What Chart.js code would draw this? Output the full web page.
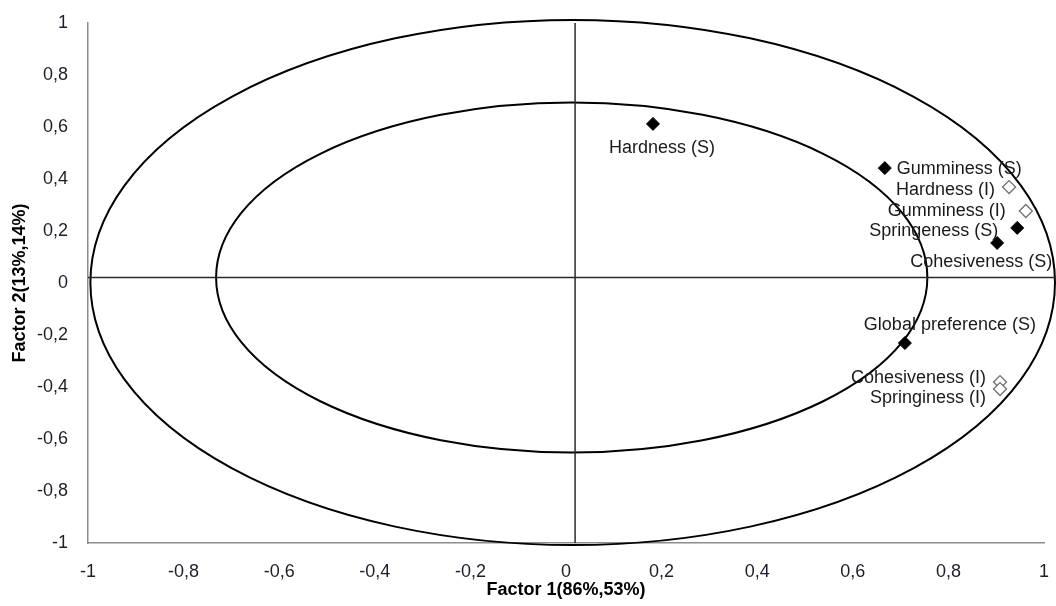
<!DOCTYPE html>
<html>
<head>
<meta charset="utf-8">
<script src="https://cdn.jsdelivr.net/npm/chart.js@4"></script>
<style>
  html, body { margin: 0; padding: 0; background: #fff; }
  #wrap { width: 1056px; height: 606px; }
</style>
</head>
<body>
<div id="wrap"><canvas id="pca"></canvas></div>
<script>
// sensory (S) variables - filled diamonds
const namesS = ['Hardness (S)', 'Gumminess (S)', 'Springeness (S)', 'Cohesiveness (S)', 'Global preference (S)'];
const factor1S = [0.182, 0.667, 0.944, 0.902, 0.709];
const factor2S = [0.612, 0.442, 0.212, 0.154, -0.231];

// instrumental (I) variables - open diamonds
const namesI = ['Hardness (I)', 'Gumminess (I)', 'Cohesiveness (I)', 'Springiness (I)'];
const factor1I = [0.927, 0.962, 0.908, 0.908];
const factor2I = [0.369, 0.277, -0.381, -0.408];

// tick values for both axes
const axisTicks = [-1, -0.8, -0.6, -0.4, -0.2, 0, 0.2, 0.4, 0.6, 0.8, 1];

// correlation ellipses: centre and radii in factor units
const ellipseCx = [0.014, 0.012];
const ellipseCy = [0.002, 0.021];
const ellipseRx = [1.009, 0.744];
const ellipseRy = [1.01, 0.673];

// the two cross lines
const crossH = [{x: -1, y: 0.021}, {x: 1.03, y: 0.021}];
const crossV = [{x: 0.019, y: -1}, {x: 0.019, y: 1}];

// label placement (pixels from the marker)
const labelPosS = [
  {dx: 9, dy: 24, align: 'center'},
  {dx: 12, dy: 1, align: 'left'},
  {dx: -19, dy: 3, align: 'right'},
  {dx: -16, dy: 19, align: 'center'},
  {dx: 45, dy: -18, align: 'center'}
];
const labelPosI = [
  {dx: -14, dy: 3, align: 'right'},
  {dx: -20, dy: 0, align: 'right'},
  {dx: -14, dy: -4, align: 'right'},
  {dx: -14, dy: 9, align: 'right'}
];

const FONT = '"Liberation Sans", Arial, sans-serif';

const toPoints = (xs, ys) => xs.map((x, i) => ({x: x, y: ys[i]}));
const fmt = v => Number(v.toFixed(1)).toString().replace('.', ',');

const ellipsePlugin = {
  id: 'ellipses',
  beforeDatasetsDraw(chart) {
    const {ctx, scales: {x, y}} = chart;
    ctx.save();
    ctx.strokeStyle = '#000';
    ctx.lineWidth = 2;
    ellipseCx.forEach((cx, i) => {
      const px = x.getPixelForValue(cx);
      const py = y.getPixelForValue(ellipseCy[i]);
      const rx = x.getPixelForValue(cx + ellipseRx[i]) - px;
      const ry = py - y.getPixelForValue(ellipseCy[i] + ellipseRy[i]);
      ctx.beginPath();
      ctx.ellipse(px, py, rx, ry, 0, 0, Math.PI * 2);
      ctx.stroke();
    });
    ctx.restore();
  }
};

const labelPlugin = {
  id: 'pointLabels',
  afterDatasetsDraw(chart) {
    const {ctx} = chart;
    ctx.save();
    ctx.font = '18px ' + FONT;
    ctx.fillStyle = '#1a1a1a';
    ctx.textBaseline = 'middle';
    const drawSet = (dsIndex, names, pos) => {
      chart.getDatasetMeta(dsIndex).data.forEach((el, i) => {
        ctx.textAlign = pos[i].align;
        ctx.fillText(names[i], el.x + pos[i].dx, el.y + pos[i].dy);
      });
    };
    drawSet(2, namesS, labelPosS);
    drawSet(3, namesI, labelPosI);
    ctx.restore();
  }
};

const axisCommon = (title, pad, titlePad) => ({
  type: 'linear',
  min: -1,
  max: 1,
  afterBuildTicks: s => { s.ticks = axisTicks.map(v => ({value: v})); },
  grid: {color: 'transparent', drawTicks: false},
  border: {color: '#8c8c8c', width: 1.5},
  ticks: {
    padding: pad,
    color: '#1e1e2a',
    font: {family: FONT, size: 18},
    callback: v => fmt(v)
  },
  title: {
    display: true,
    text: title,
    color: '#000',
    font: {family: FONT, size: 18, weight: 'bold'},
    padding: titlePad
  }
});

const xAxis = axisCommon('Factor 1(86%,53%)', 18, {top: 0, bottom: 5});
xAxis.afterFit = s => {
  s.height = 63;
  s.paddingLeft = 0;
  s.paddingRight = 0;
};
const yAxis = axisCommon('Factor 2(13%,14%)', 20, {top: 9, bottom: 0});
yAxis.afterFit = s => {
  s.width = 88;
  s.paddingTop = 0;
  s.paddingBottom = 0;
};

new Chart(document.getElementById('pca'), {
  type: 'scatter',
  data: {
    datasets: [
      {
        label: 'h', data: crossH, showLine: true, pointRadius: 0,
        borderColor: '#2a2a2a', borderWidth: 1.5, clip: false
      },
      {
        label: 'v', data: crossV, showLine: true, pointRadius: 0,
        borderColor: '#2a2a2a', borderWidth: 1.5, clip: false
      },
      {
        label: 'S', data: toPoints(factor1S, factor2S),
        pointStyle: 'rectRot', pointRadius: 6.5,
        backgroundColor: '#000', borderColor: '#000', borderWidth: 1, clip: false
      },
      {
        label: 'I', data: toPoints(factor1I, factor2I),
        pointStyle: 'rectRot', pointRadius: 6.5,
        backgroundColor: '#fff', borderColor: '#707070', borderWidth: 1.3, clip: false
      }
    ]
  },
  options: {
    responsive: true,
    maintainAspectRatio: false,
    animation: false,
    layout: {padding: {top: 23, right: 12, left: 0, bottom: 0}},
    plugins: {legend: {display: false}, tooltip: {enabled: false}},
    scales: {x: xAxis, y: yAxis}
  },
  plugins: [ellipsePlugin, labelPlugin]
});
</script>
</body>
</html>
